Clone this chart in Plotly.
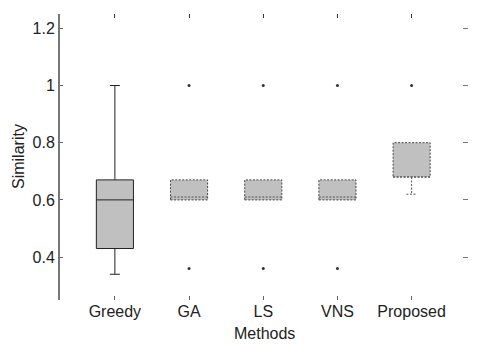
import plotly.graph_objects as go

methods = ["Greedy", "GA", "LS", "VNS", "Proposed"]
q1 = [0.43, 0.60, 0.60, 0.60, 0.68]
median = [0.60, 0.61, 0.61, 0.61, 0.68]
q3 = [0.67, 0.67, 0.67, 0.67, 0.80]
lower = [0.34, 0.60, 0.60, 0.60, 0.62]
upper = [1.00, 0.67, 0.67, 0.67, 0.80]
outliers = [[], [0.36, 1.0], [0.36, 1.0], [0.36, 1.0], [1.0]]
dashed = [False, True, True, True, True]
ytick_vals = [0.4, 0.6, 0.8, 1.0, 1.2]
ytick_text = ["0.4", "0.6", "0.8", "1", "1.2"]

BOX_W = 0.5
CAP_W = 0.07
FONT = "Liberation Sans, Arial, sans-serif"

# the page body adds an 8px offset; size the figure to fit the window
OFF = 8
W, H = 488 - OFF, 344 - OFF
ML, MR, MT, MB = 60 - OFF, 20, 14 - OFF, 44

fig = go.Figure()

for i, m in enumerate(methods):
    if not dashed[i]:
        fig.add_trace(go.Box(
            x=[i], q1=[q1[i]], median=[median[i]], q3=[q3[i]],
            lowerfence=[lower[i]], upperfence=[upper[i]],
            width=BOX_W, whiskerwidth=0.27,
            fillcolor="#c0c0c0", line=dict(color="#222222", width=1),
            boxpoints=False, showlegend=False, hoverinfo="skip"))
    else:
        h = BOX_W / 2
        fig.add_trace(go.Scatter(
            x=[i - h, i + h, i + h, i - h, i - h],
            y=[q1[i], q1[i], q3[i], q3[i], q1[i]],
            mode="lines", fill="toself", fillcolor="#c0c0c0",
            line=dict(color="#444444", width=1, dash="2px,1.5px"),
            showlegend=False, hoverinfo="skip"))
        xs, ys = [i - h, i + h, None], [median[i], median[i], None]
        if lower[i] < q1[i]:
            xs += [i, i, None, i - CAP_W, i + CAP_W, None]
            ys += [q1[i], lower[i], None, lower[i], lower[i], None]
        if upper[i] > q3[i]:
            xs += [i, i, None, i - CAP_W, i + CAP_W, None]
            ys += [q3[i], upper[i], None, upper[i], upper[i], None]
        fig.add_trace(go.Scatter(
            x=xs, y=ys, mode="lines",
            line=dict(color="#555555", width=1, dash="2px,1.5px"),
            showlegend=False, hoverinfo="skip"))
    if outliers[i]:
        fig.add_trace(go.Scatter(
            x=[i] * len(outliers[i]), y=outliers[i], mode="markers",
            marker=dict(color="#333333", size=3),
            showlegend=False, hoverinfo="skip"))

# dummy trace for mirrored tick axes
fig.add_trace(go.Scatter(x=[None], y=[None], xaxis="x2", yaxis="y2",
                         showlegend=False, hoverinfo="skip"))

XR = [-0.74, 4.76]
YR = [0.25, 1.25]

plot_w = W - ML - MR
plot_h = H - MT - MB

def px_to_paper_x(px):
    return (px - OFF - ML) / plot_w

def px_to_paper_y(py):
    return (H - MB - (py - OFF)) / plot_h

fig.update_layout(
    width=W, height=H,
    margin=dict(l=ML, r=MR, t=MT, b=MB, autoexpand=False),
    paper_bgcolor="white", plot_bgcolor="white",
    font=dict(family=FONT, size=16, color="#222222"),
    xaxis=dict(range=XR, tickvals=list(range(len(methods))), ticktext=methods,
               ticks="inside", ticklen=4, tickcolor="#666666",
               showline=False, showgrid=False, zeroline=False, automargin=False,
               tickfont=dict(size=16)),
    yaxis=dict(range=YR, tickvals=ytick_vals, ticktext=ytick_text,
               ticks="inside", ticklen=3, tickcolor="#666666",
               showline=True, linecolor="#777777", linewidth=2,
               showgrid=False, zeroline=False, automargin=False,
               tickfont=dict(size=16)),
    xaxis2=dict(range=XR, tickvals=list(range(len(methods))), overlaying="x",
                side="top", anchor="y", ticks="inside", ticklen=4,
                tickcolor="#333333", showticklabels=False, showline=False,
                showgrid=False, zeroline=False, automargin=False),
    yaxis2=dict(range=YR, tickvals=ytick_vals, overlaying="y", side="right",
                anchor="x", ticks="inside", ticklen=5, tickcolor="#777777",
                showticklabels=False, showline=False, showgrid=False,
                zeroline=False, automargin=False),
    annotations=[
        dict(text="Methods", xref="paper", yref="paper",
             x=px_to_paper_x(264), y=px_to_paper_y(333),
             xanchor="center", yanchor="middle",
             showarrow=False, font=dict(size=16)),
        dict(text="Similarity", textangle=-90, xref="paper", yref="paper",
             x=px_to_paper_x(18), y=px_to_paper_y(157),
             xanchor="center", yanchor="middle",
             showarrow=False, font=dict(size=16)),
    ],
)

fig.write_html("out.html")
